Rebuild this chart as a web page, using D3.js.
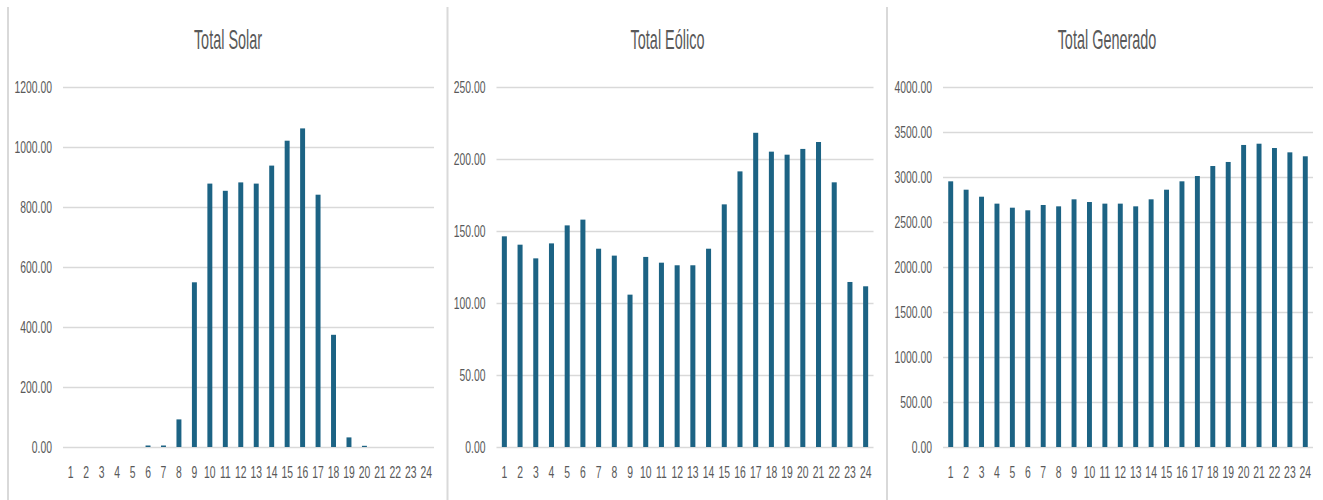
<!DOCTYPE html>
<html>
<head>
<meta charset="utf-8">
<script src="https://cdn.jsdelivr.net/npm/d3@7"></script>
<style>
  html, body { margin: 0; padding: 0; background: #fff; }
  svg { display: block; }
  .title { font-family: "Liberation Sans", Arial, sans-serif; fill: #595959; }
  .axis text { font-family: "Liberation Sans", Arial, sans-serif; fill: #595959; font-size: 17px; }
  .panel-line { stroke: #d9d9d9; stroke-width: 2; }
</style>
</head>
<body>
<svg id="chart" width="1323" height="500"></svg>
<script>
"use strict";

/* ── Data ─────────────────────────────────────────────── */
const hours = d3.range(1, 25).map(String);

const solar = [0, 0, 0, 0, 0, 5, 5, 92, 549, 878, 854, 882,
               878, 938, 1021, 1062, 841, 374, 32, 4, 0, 0, 0, 0];

const eolico = [146.3, 140.5, 131.0, 141.4, 153.9, 157.9, 137.7, 132.9,
                105.8, 132.0, 128.0, 126.2, 126.2, 137.7, 168.5, 191.4,
                218.2, 205.1, 203.0, 207.0, 211.8, 183.8, 114.6, 111.6];

const generado = [2952, 2859, 2781, 2704, 2659, 2630, 2689, 2674,
                  2752, 2722, 2704, 2704, 2674, 2752, 2859, 2952,
                  3011, 3122, 3167, 3356, 3370, 3322, 3274, 3230];

const solarTicks    = [0, 200, 400, 600, 800, 1000, 1200];
const eolicoTicks   = [0, 50, 100, 150, 200, 250];
const generadoTicks = [0, 500, 1000, 1500, 2000, 2500, 3000, 3500, 4000];

const titles = ["Total Solar", "Total Eólico", "Total Generado"];

/* ── Layout ───────────────────────────────────────────── */
const BAR_COLOR = "#1c6384";
const PANEL_W = 440;
const PLOT_TOP = 87, PLOT_BOTTOM = 447;
const TXT_SX = 0.61;     // tick text is very condensed in the reference
const TITLE_SX = 0.535;

const charts = [
  { x0: 8,     ml: 55, title: titles[0], values: solar,    ticks: solarTicks },
  { x0: 447.5, ml: 49, title: titles[1], values: eolico,   ticks: eolicoTicks },
  { x0: 887,   ml: 56, title: titles[2], values: generado, ticks: generadoTicks },
];

const svg = d3.select("#chart");

/* panel borders */
[8, 447.5, 887].forEach((x) => {
  svg.append("line").attr("class", "panel-line")
    .attr("x1", x).attr("x2", x).attr("y1", 7).attr("y2", 500);
});

charts.forEach(drawChart);

function drawChart(c) {
  const g = svg.append("g").attr("transform", `translate(${c.x0},0)`);
  const left = c.ml, right = 426;

  /* Title */
  g.append("text").attr("class", "title")
    .attr("transform", `translate(${PANEL_W / 2},49) scale(${TITLE_SX},1)`)
    .attr("text-anchor", "middle")
    .style("font-size", "27px")
    .text(c.title);

  const x = d3.scaleBand().domain(hours).range([left, right])
    .paddingInner(0.68).paddingOuter(0.34);
  const y = d3.scaleLinear()
    .domain([0, d3.max(c.ticks)])
    .range([PLOT_BOTTOM, PLOT_TOP]);

  /* Y axis + gridlines */
  g.append("g").attr("class", "axis")
    .attr("transform", `translate(${left},0)`)
    .call(d3.axisLeft(y).tickValues(c.ticks).tickFormat(d3.format(".2f"))
      .tickSize(-(right - left)).tickPadding(11))
    .call((ax) => {
      ax.select(".domain").remove();
      ax.selectAll("line").attr("stroke", "#d9d9d9").attr("stroke-width", 1.5);
      ax.selectAll("text")
        .attr("x", -11 / TXT_SX)
        .attr("transform", `scale(${TXT_SX},1)`);
    });

  /* X axis labels */
  g.append("g").attr("class", "axis")
    .attr("transform", `translate(0,${PLOT_BOTTOM})`)
    .call(d3.axisBottom(x).tickSize(0).tickPadding(19))
    .call((ax) => {
      ax.select(".domain").remove();
      ax.selectAll("text").attr("transform", `scale(${TXT_SX},1)`)
        .attr("x", 0);
    });

  /* Bars */
  g.append("g").selectAll("rect")
    .data(c.values)
    .join("rect")
    .attr("x", (d, i) => x(hours[i]))
    .attr("width", x.bandwidth())
    .attr("y", (d) => y(d))
    .attr("height", (d) => PLOT_BOTTOM - y(d))
    .attr("fill", BAR_COLOR);
}
</script>
</body>
</html>
